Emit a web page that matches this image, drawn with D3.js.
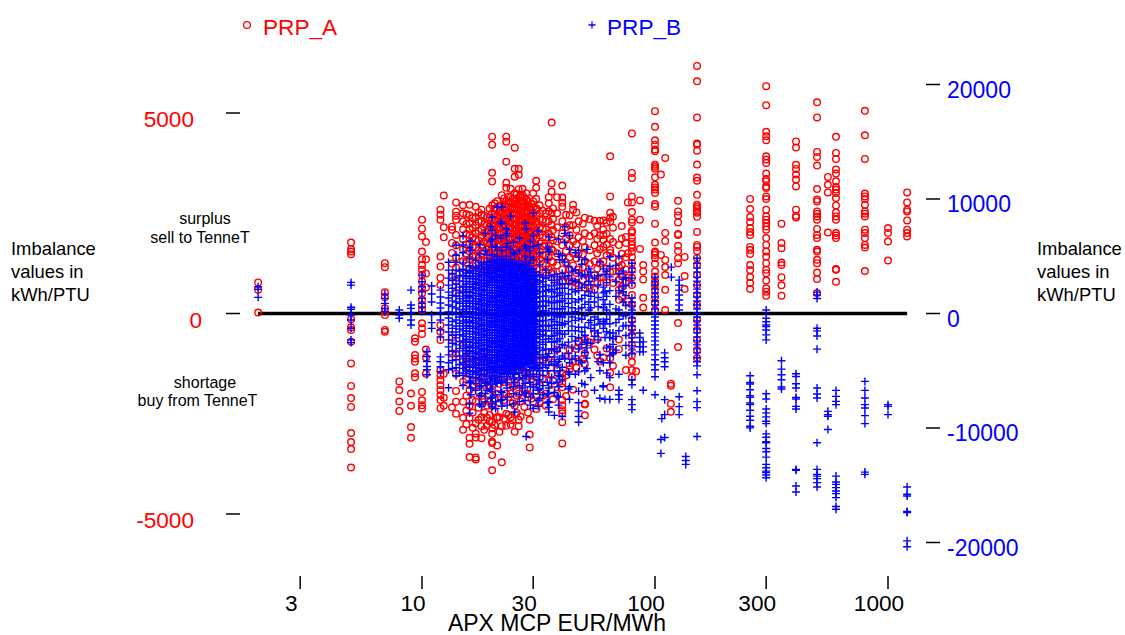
<!DOCTYPE html>
<html><head><meta charset="utf-8">
<script src="https://cdn.jsdelivr.net/npm/d3@7/dist/d3.min.js"></script>
<style>html,body{margin:0;padding:0;background:#fff}svg{display:block}text{font-family:"Liberation Sans",Arial,sans-serif}</style>
</head><body><svg id="c" width="1125" height="635"></svg>
<script>
const leftTicks=[5000,0,-5000];
const rightTicks=[20000,10000,0,-10000,-20000];
const priceTicks=[3,10,30,100,300,1000];
const seriesNames=["PRP_A","PRP_B"];
const prpA=[
[1.98,[775,590,25]],
[4.96,[1770,1605,1545,1480,-145,-345,-410,-705,-1245,-1805,-2110,-2330,-2980,-3205,-3380,-3840]],
[6.93,[1255,1155,530,405,130,45,-40,-410,-455]],
[7.99,[-1695,-1910,-2195,-2430]],
[8.97,[-1995,-2300,-2830,-3100]],
[9.33,[-620,-705,-1035,-1120,-1205,-1490,-1590]],
[10,[2340,2115,1920,1545,1355,1210,1090,965,795,630,505,340,210,90,-245,-370,-510,-1955,-2165,-2290,-2370]],
[10.4,[1780,1350,1000,650,-900,-1100,-1500]],
[12,[2590,2465,2340,1420,1170,890,710,-290,-455,-660,-1410,-1540,-1660,-1790,-1910,-2040,-2160,-2360]],
[12.4,[2945,2150,1900,-1500,-2100,-2300]],
[13.45,[2165,2090,1760,1510,1250,900,-600,-1000,-2340]],
[14,[2770,2540,2440,2340,1960,1700,1400,1150,800,500,-1000,-1500,-1930,-2200,-2500]],
[15,[2700,2500,2300,2100,1850,1600,1300,1000,600,-800,-1200,-1700,-2200,-2600,-2900]],
[16,[2710,2450,2250,2100,1950,1750,1550,1350,1100,-1000,-1500,-1900,-2300,-2600,-3100,-3250,-3580]],
[17,[2660,2400,2200,2000,1850,1650,1450,1250,1000,700,-1200,-1700,-2200,-2740,-2990,-3090,-3590,-3640]],
[18,[2590,2460,2300,2100,1900,1700,1500,1300,1100,-1000,-1600,-2060,-2590,-2810,-3110]],
[19,[2400,2200,2050,1900,1750,1600,1450,1300,1100,850,-1200,-1700,-2300,-2600,-2800]],
[20,[4410,4210,3510,3290,2700,2500,2350,2200,2050,1900,1750,1600,1450,1300,1100,-1300,-1900,-2300,-2700,-2860,-3000,-3200,-3230,-3530,-3910]],
[21,[2800,2600,2450,2300,2150,2000,1850,1700,1550,1400,1200,-1500,-2000,-2600,-2590,-3290]],
[22,[2950,2700,2500,2350,2200,2000,1800,1600,1400,1200,-2810,-3710]],
[23,[4410,4285,3785,3260,3135,2800,2650,2500,2350,2200,2050,1900,1750,1600,1450,1300,1100,900,-1400,-2000,-2500,-2800]],
[24,[3110,2900,2750,2600,2450,2300,2150,2000,1850,1700,1550,1400,1200,-1500,-2000,-2590,-2770]],
[25,[4135,3610,3410,3000,2800,2650,2500,2350,2200,2050,1900,1750,1600,1450,1300,1100,-1300,-1800,-2300,-2950]],
[26,[3610,3460,3100,2900,2750,2600,2450,2300,2150,2000,1850,1700,1550,1400,1200,1000,-1400,-2000,-2650,-2810]],
[27,[3110,2950,2800,2650,2500,2350,2200,2050,1900,1750,1600,1450,1300]],
[28,[3000,2850,2700,2550,2400,2250,2100,1950,1800,1650,1500,1300,1100,900,-1500,-2000]],
[29,[2650,2450,2300,2150,2000,1850,1700,1500,-2650,-3020,-3340]],
[30,[3000,2800,2650,2500,2350,2200,2050,1900,1750,1600,1450,1250,1050,800,-1100,-1700,-2200]],
[30.9,[3310,3135,2860,2600,2300,2000,1700,1400]],
[32,[2700,2500,2350,2150,1950,1750,1550,1350,1100,850,-1200,-1800,-2200]],
[34,[2500,2300,2100,1900,1700,1450,1200,950,-1100,-1500,-2000,-2300]],
[35,[2900,2750,2550,2300,2000,1700,1400,1100]],
[36,[4760,3240,3040,2500,2200,1900,1600,1300,1000,-1000,-1500,-1900]],
[38,[2900,2500,2150,1800,1500,1200,900,-900,-1400,-2000]],
[40,[3190,2890,2760,2660,2300,2000,1700,1400,1100,800,-1490,-1610,-1740,-1840,-2160,-2290,-2410,-2490,-2710,-3240]],
[43,[2450,2200,1950,1700,1400,1100,800,-900,-1300,-1390]],
[44.5,[2710,2590,2200,1800,1500,1200,800,-1190,-1900]],
[47,[2300,1900,1500,1100,700,-700,-1200]],
[50,[2390,2000,1650,1300,1000,650,-650,-1000,-1260,-2000,-2250,-2270,-2540]],
[55,[2310,2000,1700,1300,950,600,-500,-900]],
[58,[2310,1950,1600,1250,900,-1200]],
[60,[2320,2090,1960,1840,1660,1300,900,-1100]],
[64.2,[3920,2920,2510,2385,2295,1860,1585,1510,1040,-1110,-1480,-1840]],
[70,[1710,1310,1160,1040,840,590,340,-650,-890]],
[75,[1910,1760,1400,1100,800,-1410]],
[76.5,[2770,1500,900,300]],
[79.6,[4490,3505,3380,2920,2770,2530,2340,2270,2065,2020,1890,1790,1710,1640,1540,1410,1260,1090,890,710,460,210,-160,-360,-540,-790,-1040,-1210,-1410,-1590]],
[83,[-1440]],
[86.2,[2820,2340,1610]],
[89,[1210,1050,850,390,150]],
[100,[5045,4655,4320,4210,4090,4045,3710,3660,3610,3395,3210,3145,3090,3005,2730,2670,2240,1770,1545,1510,1460,1385,1240,1045,920,795,710,590,420,260,85]],
[106,[3465,1460]],
[110.6,[3880,2010,1810,1335,1160,960,590,85]],
[117,[-1750,-1800,-2250,-2450]],
[125.6,[2810,2545,2445,2270,1985,1960,1690,1560,1380,1255,-240,-835]],
[134,[1410,935,610]],
[151.5,[6175,5790,4890,4240,4215,4060,3715,3390,3310,2960,2710,2660,2610,2535,2510,2410,2035,1710,1660,1560,1385,1210,960,710,460,210,-165,-410,-660,-910,-1110]],
[256,[2856,2606,2407,2282,2132,2033,1958,1659,1584,1484,1210,1085,910,761,611]],
[300,[5670,5195,4530,4420,4320,3920,3840,3755,3490,3355,3295,3170,3130,2920,2855,2590,2420,2340,2255,2170,2090,1880,1710,1545,1420,1255,1090,1005,820,630,545,440]],
[349,[2240,1755,1630,1270,1210,905,705,445]],
[403,[4290,4140,3710,3605,3465,3340,3170,2590,2440,2395]],
[496,[5265,4890,4030,3905,3690,3105,2840,2795,2545,2490,2420,2340,2110,1960,1880,1590,1545,1340,1255,1020,860,510]],
[552,[3405,3210,3020,2020]],
[598,[4405,4005,3855,3590,3490,3295,3155,3090,3005,2880,2695,2520,2420,2340,2005,1945,1880,1110,1090,790]],
[796,[5055,4445,3855,2990,2920,2855,2715,2545,2490,2420,2090,2005,1880,1710,1645,1060]],
[1000,[2130,2005,1795,1320]],
[1208,[3020,2770,2590,2545,2320,2090,2005,1920]]
];
const prpACore=[
[15.5,[2480,2230,1980,1720,1490,1260,-1100,-1380,-1640,-2050,-2420,-2760]],
[16.5,[2380,2140,1900,1660,1420,1190,-1240,-1520,-1810,-2160,-2470,-2850]],
[17.5,[2520,2290,2060,1820,1580,1370,1120,-1050,-1350,-1610,-1950,-2350,-2650]],
[18.5,[2440,2230,2010,1790,1560,1330,1090,-1180,-1470,-1780,-2140,-2480,-2900]],
[19.5,[2610,2390,2170,1960,1740,1520,1280,1060,-1090,-1430,-1860,-2210,-2530,-2690]],
[20.5,[2750,2610,2470,2330,2190,2050,1910,1770,1630,1490,1350,1210,-1150,-1620,-2120,-2440,-2780]],
[21.5,[2680,2540,2410,2260,2130,1990,1840,1710,1570,1430,1290,1150,-1270,-1750,-2230,-2590,-2950]],
[22.5,[2870,2720,2590,2440,2310,2170,2020,1890,1740,1610,1460,1330,1190,-1340,-1710,-2160,-2620]],
[23.5,[2920,2790,2660,2530,2400,2270,2140,2010,1880,1750,1620,1490,1360,1230,1100,-1230,-1690,-2080,-2530]],
[24.5,[2860,2740,2620,2490,2370,2240,2120,1990,1870,1740,1620,1490,1370,1240,1120,-1380,-1820,-2240,-2660]],
[25.5,[2980,2850,2730,2600,2480,2350,2230,2100,1980,1850,1730,1600,1480,1350,1230,-1150,-1570,-2050,-2480]],
[26.5,[2930,2810,2680,2560,2430,2310,2180,2060,1930,1810,1680,1560,1430,1310,1180,-1290,-1730,-2190,-2570]],
[27.5,[2890,2760,2640,2510,2390,2260,2140,2010,1890,1760,1640,1510,1390,1260,1140,-1440,-1880,-2330]],
[28.5,[2790,2660,2530,2410,2280,2160,2030,1910,1780,1660,1530,1410,1280,1160,-1120,-1560,-2010,-2470]],
[29.5,[2730,2580,2440,2290,2150,2000,1860,1710,1570,1420,1280,1130,-1260,-1640,-2120]],
[31,[2620,2430,2240,2060,1870,1680,1490,1300,1110,-1080,-1490,-1930,-2380]],
[33,[2560,2340,2120,1900,1680,1460,1240,1020,-1160,-1620,-2050]],
[36.5,[2620,2360,2080,1820,1560,1280,1040,-1220,-1680,-2140]],
[41.5,[2460,2150,1880,1560,1270,950,-1060,-1540,-2060]],
[46,[2520,2090,1720,1380,1010,760,-880,-1350]],
[49,[2240,1810,1470,1150,830,-780,-1130]],
[52.5,[2350,1930,1580,1240,880,640,-720]],
[56.5,[2190,1860,1500,1120,760,-640,-1050]],
[62,[2260,1990,1720,1450,1120,780,-870]],
[66,[2410,2140,1780,1390,1050,760,-960,-1300]],
[72,[2180,1870,1490,1210,930,660,420]]
];
const prpB=[
[1.98,[2330,2105,1410]],
[4.96,[2715,2480,540,365,-130,-565,-1290,-2305,-2540]],
[6.93,[1695,1320,885,450,155]],
[7.99,[305,-130,-420]],
[8.97,[2045,740,450,20,-565,-1000]],
[10,[3350,2770,2330,1895,1320,885,540,155]],
[10.5,[-3325,-3760,-4195,-4630,-4915,-5350]],
[11,[2400,1700,1000,-100,-800,-1300]],
[12,[2045,1435,915,480,45,-565,-1435,-2045,-3785,-4220,-4655,-5090]],
[13,[4480,3785,3090,2480,1870,1350,740,130,-390,-1000,-1610,-2305,-2915,-3610,-4305,-4915,-6480]],
[14,[5960,5090,4480,3785,3175,2570,2045,1525,1000,480,-45,-565,-1090,-1610,-2130,-2740,-3350,-4045,-4740,-5435]],
[15,[6780,5980,5310,4420,3860,3340,2810,2390,1950,1520,1080,640,210,-220,-650,-1090,-1520,-1960,-2390,-2830,-3260,-3790,-4300,-4790,-5400,-6300]],
[16,[5760,4820,4180,3650,3210,2770,2340,1900,1460,1030,590,160,-280,-710,-1150,-1580,-2020,-2450,-2890,-3320,-3760,-4190,-4630,-5060,-5500,-6050,-7900,-8700]],
[17,[4650,3980,3480,3040,2610,2170,1740,1300,870,430,50,-390,-820,-1260,-1700,-2130,-2570,-3000,-3440,-3870,-4310,-4740,-5180,-5610,-6100,-6700]],
[18,[4450,3910,3360,2900,2480,2050,1610,1180,740,310,-130,-560,-1000,-1430,-1870,-2300,-2740,-3170,-3610,-4040,-4480,-4910,-5350,-5780,-6300,-7000,-8100]],
[19,[5100,4500,3900,3400,2900,2450,2000,1580,1140,710,270,-160,-600,-1030,-1470,-1900,-2340,-2770,-3210,-3640,-4080,-4510,-4950,-5500,-6000,-6700]],
[20,[8400,7260,6500,5800,5150,4600,4050,3600,3150,2700,2260,1830,1400,960,530,90,-350,-780,-1220,-1650,-2090,-2520,-2960,-3390,-3830,-4260,-4700,-5130,-5650,-6200,-6800,-7300,-7900,-8150]],
[21,[9300,5770,5000,4400,3850,3350,2900,2450,2020,1590,1150,720,280,-150,-590,-1020,-1460,-1890,-2330,-2760,-3200,-3630,-4070,-4500,-4940,-5500,-6100]],
[22,[9300,7860,5500,4750,4200,3700,3200,2750,2310,1880,1440,1010,570,140,-300,-730,-1170,-1600,-2040,-2470,-2910,-3340,-3780,-4210,-4650,-5200,-5900,-6900,-7500,-8100]],
[23,[7400,6800,5780,5000,4350,3800,3300,2850,2400,1970,1530,1100,660,230,-210,-640,-1080,-1510,-1950,-2380,-2820,-3250,-3690,-4120,-4560,-5000,-5500,-6050]],
[24,[8500,5600,4700,4100,3550,3050,2600,2160,1730,1290,860,420,-10,-450,-880,-1320,-1750,-2190,-2620,-3060,-3490,-3930,-4360,-4800,-5300]],
[25,[5150,4400,3800,3300,2800,2340,1900,1470,1030,600,160,-270,-710,-1140,-1580,-2010,-2450,-2880,-3320,-3750,-4190,-4700,-5300,-6000,-8600]],
[26,[4600,3950,3420,2900,2450,2000,1570,1130,700,260,-170,-610,-1040,-1480,-1910,-2350,-2780,-3220,-3650,-4090,-4600,-5200]],
[27,[4300,3700,3180,2700,2250,1800,1370,930,500,60,-370,-810,-1240,-1680,-2110,-2550,-2980,-3420,-3900,-4400,-5000,-5700,-6500]],
[28,[7400,5700,4500,3800,3250,2760,2300,1870,1430,1000,560,130,-310,-740,-1180,-1610,-2050,-2480,-2920,-3350,-3800,-4300,-4900,-5500,-7000,-10745]],
[29,[5500,4400,3600,3000,2500,2050,1620,1180,750,310,-120,-560,-990,-1430,-1860,-2300,-2730,-3170,-3700,-4300,-5000,-6000]],
[30,[8770,6800,5850,4700,3900,3200,2700,2240,1800,1370,930,500,60,-370,-810,-1240,-1680,-2110,-2550,-3000,-3500,-4100,-4800,-5500,-6400,-7000,-8300]],
[32,[5300,4250,3400,2850,2350,1900,1470,1030,600,160,-270,-710,-1140,-1580,-2010,-2500,-3000,-3600,-4300,-5000,-5800,-6600,-7400]],
[34,[3800,3100,2500,2000,1540,1100,670,230,-200,-640,-1070,-1510,-1950,-2500,-3100,-3800,-4500]],
[35,[6700,5550,5400,3300,2100,1000,50,-1100,-2200,-3500,-4500,-6500,-7000,-7700,-8200,-8600]],
[37,[3400,2700,2100,1500,950,400,-150,-700,-1300,-1900,-2500,-3100,-3800,-4400,-5000,-6900,-8900]],
[39,[4700,3000,2200,1600,1000,400,-200,-800,-1500,-2200,-3000,-4000,-5000,-5500]],
[40,[5050,3500,2600,1800,1100,400,-300,-1000,-1800,-2700,-3700,-4700,-5800,-9000]],
[41,[7600,7000,6200,4500,3200,2200,1300,600,-100,-900,-1800,-2800,-3900]],
[44,[3700,2900,2100,1300,500,-300,-1100,-2000,-3000,-4000]],
[47,[5510,4900,3500,2700,2000,1200,400,-400,-1200,-2100,-3100,-4100,-5100,-6800,-7800,-8500,-9000,-9500]],
[50,[4700,3400,2500,1600,800,-200,-1200,-1900,-2300,-3400,-5000,-6200]],
[52,[3900,3200,2800,1900,1000,300,-800]],
[55,[3100,1800,1000,-300,-1000,-1500,-2000,-6700]],
[60,[3900,2300,1800,1200,500,-700,-1300,-4300,-6300,-6400]],
[61,[3400,1900,800,-900,-2100,-7500]],
[64,[4950,4100,3200,2000,800,-100,-900,-1700,-2100,-2900,-3700,-4300,-5600,-7500]],
[66,[-1700,-2200,-2700,-3400,-3500]],
[70,[5000,3500,2000,300,-500,-1500,-5300,-6700,-7100,-7500]],
[73,[3700,3000,2400,1900,1000,-200,-1100]],
[75,[3130,2435,1565,695,-175,-1045,-1915,-2785,-3650]],
[79.6,[4390,3960,3610,3090,2650,1350,1000,650,305,-45,-390,-740,-1090,-1435,-1785,-2130,-2480,-2830,-3175,-3520,-5785,-6220,-7525,-7960,-8395]],
[86,[-1700,-2100,-2500,-2900,-3350]],
[89,[-2480,-2915,-3350,-6700]],
[100,[3175,2830,2480,2130,1785,1435,1090,740,390,45,-305,-650,-1000,-1350,-1695,-2045,-2390,-2740,-3175,-3610,-4045,-4480,-4915,-5525,-7090]],
[106,[-11005,-12220]],
[107,[-9180]],
[110,[-3435,-3870,-4220,-4655,-7525,-8830,-10830]],
[117.5,[4050,3175]],
[127,[2915,2480,2045,1610,1175,740,305,-7265,-8135,-8830]],
[135.5,[-12485,-12835,-13180]],
[151.5,[4830,4390,3960,3610,3175,2830,2480,2130,1785,1435,1090,740,390,45,-305,-650,-1000,-1350,-1695,-2045,-2390,-2740,-3090,-3435,-3870,-4220,-4570,-5350,-6745,-7700,-8220,-10745]],
[256,[-5440,-6020,-6160,-6655,-7180,-7325,-7815,-7960,-8455,-8980,-9325,-9850,-9990]],
[300,[305,-420,-715,-1000,-1150,-1435,-1870,-2305,-7005,-7465,-8335,-8680,-9030,-9410,-9615,-10510,-10805,-11205,-11290,-11790,-12075,-12545,-13180,-13470,-13765,-13900,-14110,-14340]],
[349,[-4130,-4855,-5350,-5785,-6420,-6595]],
[403,[-5265,-5500,-6135,-6510,-7325,-7465,-8110,-8335,-13615,-13700,-15070,-15590]],
[496,[1870,1610,1305,-1290,-1520,-1960,-3115,-6510,-7030,-7380,-11290,-13615,-14050,-14200,-14425,-14775,-15155]],
[552,[-8545,-8830,-8980,-10135]],
[598,[-6715,-7240,-7675,-7960,-14200,-14720,-14920,-15210,-15505,-15730,-16080,-16860,-17095]],
[796,[-5930,-6715,-7380,-7960,-8250,-8915,-9615,-13850,-14050]],
[1000,[-7960,-8110,-8830]],
[1208,[-15155,-15790,-15940,-17295,-17385,-19855,-20375]]
];
const prpBCore=[
[13.5,[3500,2900,2200,1600,1100,600,100,-700,-1300,-1900,-2600,-3300,-4100,-4800]],
[14.5,[3700,3300,2850,2300,1800,1300,900,350,-300,-850,-1350,-1850,-2450,-3050,-3700,-4450,-5200]],
[15.5,[3780,3540,3290,3060,2800,2570,2310,2090,1840,1600,1360,1130,880,650,390,170,-80,-330,-560,-810,-1040,-1300,-1530,-1770,-2020,-2250,-2510,-2740,-2990,-3230,-3470,-3720,-3950,-4210,-4440,-4690,-4930,-5250]],
[16.5,[4020,3750,3520,3270,3030,2790,2540,2310,2060,1820,1580,1340,1100,860,610,380,130,-110,-350,-600,-830,-1080,-1320,-1560,-1800,-2040,-2280,-2530,-2760,-3010,-3250,-3490,-3730,-3980,-4210,-4450,-4700,-4990,-5320]],
[17.5,[4180,3930,3700,3440,3210,2960,2730,2470,2240,1990,1760,1500,1270,1020,790,530,300,50,-180,-440,-670,-920,-1150,-1410,-1640,-1890,-2120,-2380,-2610,-2860,-3090,-3350,-3580,-3830,-4060,-4320,-4550,-4800,-5030,-5310]],
[18.5,[4310,4090,3830,3600,3340,3110,2850,2620,2360,2130,1870,1640,1380,1150,890,660,400,170,-90,-320,-580,-810,-1070,-1300,-1560,-1790,-2050,-2280,-2540,-2770,-3030,-3260,-3520,-3750,-4010,-4240,-4500,-4730,-4990,-5280]],
[19.5,[4520,4240,4010,3760,3500,3270,3020,2760,2530,2280,2020,1790,1540,1280,1050,800,540,310,60,-200,-430,-680,-940,-1170,-1420,-1680,-1910,-2160,-2420,-2650,-2900,-3160,-3390,-3640,-3900,-4130,-4380,-4640,-4870,-5140,-5460]],
[20.5,[4710,4460,4220,3970,3730,3480,3240,2990,2750,2500,2260,2010,1770,1520,1280,1030,790,540,300,50,-190,-440,-680,-930,-1170,-1420,-1660,-1910,-2150,-2400,-2640,-2890,-3130,-3380,-3620,-3870,-4110,-4360,-4600,-4850,-5090,-5380,-5720]],
[21.5,[4630,4380,4150,3890,3660,3400,3170,2910,2680,2420,2190,1930,1700,1440,1210,950,720,460,230,-30,-260,-520,-750,-1010,-1240,-1500,-1730,-1990,-2220,-2480,-2710,-2970,-3200,-3460,-3690,-3950,-4180,-4440,-4670,-4930,-5210,-5560]],
[22.5,[4550,4310,4060,3820,3570,3330,3080,2840,2590,2350,2100,1860,1610,1370,1120,880,630,390,140,-100,-350,-590,-840,-1080,-1330,-1570,-1820,-2060,-2310,-2550,-2800,-3040,-3290,-3530,-3780,-4020,-4270,-4510,-4760,-5000,-5300]],
[23.5,[4490,4220,3990,3730,3500,3240,3010,2750,2520,2260,2030,1770,1540,1280,1050,790,560,300,70,-190,-420,-680,-910,-1170,-1400,-1660,-1890,-2150,-2380,-2640,-2870,-3130,-3360,-3620,-3850,-4110,-4340,-4600,-4830,-5120]],
[24.5,[4380,4140,3890,3650,3400,3160,2910,2670,2420,2180,1930,1690,1440,1200,950,710,460,220,-30,-270,-520,-760,-1010,-1250,-1500,-1740,-1990,-2230,-2480,-2720,-2970,-3210,-3460,-3700,-3950,-4190,-4440,-4680,-4950,-5240]],
[25.5,[4260,4010,3770,3520,3280,3030,2790,2540,2300,2050,1810,1560,1320,1070,830,580,340,90,-150,-400,-640,-890,-1130,-1380,-1620,-1870,-2110,-2360,-2600,-2850,-3090,-3340,-3580,-3830,-4070,-4320,-4560,-4850]],
[26.5,[4170,3940,3680,3450,3190,2960,2700,2470,2210,1980,1720,1490,1230,1000,740,510,250,20,-240,-470,-730,-960,-1220,-1450,-1710,-1940,-2200,-2430,-2690,-2920,-3180,-3410,-3670,-3900,-4160,-4390,-4680]],
[27.5,[4090,3850,3600,3360,3110,2870,2620,2380,2130,1890,1640,1400,1150,910,660,420,170,-70,-320,-560,-810,-1050,-1300,-1540,-1790,-2030,-2280,-2520,-2770,-3010,-3260,-3500,-3750,-3990,-4240,-4530]],
[28.5,[3980,3720,3490,3230,3000,2740,2510,2250,2020,1760,1530,1270,1040,780,550,290,60,-200,-430,-690,-920,-1180,-1410,-1670,-1900,-2160,-2390,-2650,-2880,-3140,-3370,-3630,-3860,-4120,-4410]],
[29.5,[3850,3570,3290,3010,2730,2450,2170,1890,1610,1330,1050,770,490,210,-70,-350,-630,-910,-1190,-1470,-1750,-2030,-2310,-2590,-2870,-3150,-3430,-3710,-3990,-4380,-4700]],
[30.5,[3620,3300,2980,2660,2340,2020,1700,1380,1060,740,420,100,-220,-540,-860,-1180,-1500,-1820,-2140,-2460,-2780,-3100,-3420,-3840,-4250,-4670]],
[31,[3300,2910,2520,2130,1740,1350,960,570,180,-210,-600,-990,-1380,-1770,-2160,-2550,-2940,-3330,-3810,-4520,-5300,-6200]],
[33,[3180,2760,2340,1920,1500,1080,660,240,-180,-600,-1020,-1440,-1860,-2280,-2700,-3210,-3900,-4700,-5400,-6300,-7100]],
[36,[2900,2410,1920,1430,940,450,-40,-530,-1020,-1510,-2000,-2490,-3100,-4200,-5600,-6100]],
[38,[3200,2500,1800,1100,400,-300,-1000,-1700,-2400,-3300,-4500,-6000,-7200]],
[42.5,[4100,3300,2600,1700,900,100,-700,-1500,-2500,-3500,-5100,-6600]],
[45.5,[5300,3800,2800,1900,1000,150,-600,-1500,-2400,-3700,-5300]],
[48.5,[4300,3300,2300,1300,500,-500,-1600,-2700,-4300,-6100]],
[53,[3600,2500,1500,500,-600,-1300,-2600,-5600]],
[57,[3300,2500,1400,600,-500,-1700,-2300,-4200]],
[62,[3700,2700,1500,300,-500,-1600,-3000,-5200]],
[68,[4200,2800,1500,400,-800,-2000,-3200]],
[16.2,[6300,5500,-5900,-6500,-7100]],
[17.7,[6000,5200,-5700,-6400,-7200,-7900]],
[18.7,[7000,5500,-6100,-7000,-7700]],
[19.7,[7600,6300,-5900,-6600,-7400]],
[20.7,[6800,5800,-6100,-7100,-7700,-8300]],
[21.8,[8000,6600,-6000,-6800,-7600]],
[23.2,[7000,6100,-5800,-6500,-7300,-8000]],
[24.7,[6200,5300,-5700,-6400,-7000,-7900]],
[26.2,[6600,5500,-5600,-6300,-7100,-7700]],
[27.7,[7900,5900,5000,-5400,-6100,-6900,-7600]],
[29.2,[6300,4900,-5300,-6400,-7300,-8000]],
[31.5,[7200,6000,-4800,-5800,-6700,-7600,-8100]],
[34.5,[5800,4700,-3800,-5000,-6000,-7000,-7800]],
[38.5,[6500,5200,-4200,-5400,-6400,-7300,-8000]],
[43,[6800,5600,-4300,-5300,-6400,-7500]],
[51,[5600,-2500,-3000,-3900,-4800]],
[58,[4500,-900,-3600,-5000,-7400]]
];
const flatten=s=>s.flatMap(([p,vs])=>vs.map(v=>[p,v]));
const x=d3.scaleLog().domain([10,1000]).range([422,888]);
const yA=d3.scaleLinear().domain([-5000,5000]).range([514,113]);
const yB=d3.scaleLinear().domain([-20000,20000]).range([542.5,84.5]);
const RED="#ff0000",BLUE="#0000ff";
const svg=d3.select("#c");
svg.append("line").attr("x1",x(1.98)).attr("x2",x(1208)).attr("y1",yA(0)).attr("y2",yA(0)).attr("stroke","#000").attr("stroke-width",3.4);
svg.append("g").selectAll("circle").data(flatten(prpA.concat(prpACore))).join("circle")
 .attr("cx",d=>x(d[0])).attr("cy",d=>yA(d[1])).attr("r",3.3).attr("fill","none").attr("stroke",RED).attr("stroke-width",1.4);
svg.append("g").selectAll("path").data(flatten(prpB.concat(prpBCore))).join("path")
 .attr("d",d=>{const a=x(d[0]),b=yB(d[1]);return `M${a-4},${b}H${a+4}M${a},${b-4}V${b+4}`;})
 .attr("fill","none").attr("stroke",BLUE).attr("stroke-width",1.4);
const tick=(x1,x2,y1,y2)=>svg.append("line").attr("x1",x1).attr("x2",x2).attr("y1",y1).attr("y2",y2).attr("stroke","#000").attr("stroke-width",1.5);
leftTicks.forEach(t=>{tick(226,240,yA(t),yA(t));
 svg.append("text").attr("x",t===0?202:194).attr("y",yA(t)+14).attr("text-anchor","end").attr("font-size",22.6).attr("fill",RED).text(t);});
rightTicks.forEach(t=>{tick(926,940,yB(t),yB(t));
 svg.append("text").attr("x",947).attr("y",yB(t)+13).attr("font-size",23).attr("fill",BLUE).text(t);});
priceTicks.forEach(t=>{tick(x(t),x(t),576,589);
 svg.append("text").attr("x",x(t)-9).attr("y",611).attr("text-anchor","middle").attr("font-size",22.6).attr("fill","#000").text(t);});
svg.append("text").attr("x",557).attr("y",631).attr("text-anchor","middle").attr("font-size",23).text("APX MCP EUR/MWh");
const lines=(a,xp,ys,fs,anchor)=>a.forEach((s,i)=>svg.append("text").attr("x",xp).attr("y",ys[i]).attr("font-size",fs).attr("text-anchor",anchor).text(s));
const axisTitle=["Imbalance","values in","kWh/PTU"];
lines(axisTitle,11,[255,278,300.5],18.4,"start");
lines(axisTitle,1037,[255,278,300.5],18.4,"start");
lines(["surplus"],205,[224],16,"middle");
lines(["sell to TenneT"],200,[243],16,"middle");
lines(["shortage"],205,[388],16,"middle");
lines(["buy from TenneT"],197.5,[406],16,"middle");
svg.append("circle").attr("cx",247).attr("cy",25).attr("r",3.4).attr("fill","none").attr("stroke",RED).attr("stroke-width",1.3);
svg.append("path").attr("d","M588.5,25H595.5M592,21.5V28.5").attr("stroke",BLUE).attr("stroke-width",1.3);
svg.append("text").attr("x",263).attr("y",35).attr("font-size",22.6).attr("fill",RED).text(seriesNames[0]);
svg.append("text").attr("x",607).attr("y",35).attr("font-size",22.6).attr("fill",BLUE).text(seriesNames[1]);
</script></body></html>
